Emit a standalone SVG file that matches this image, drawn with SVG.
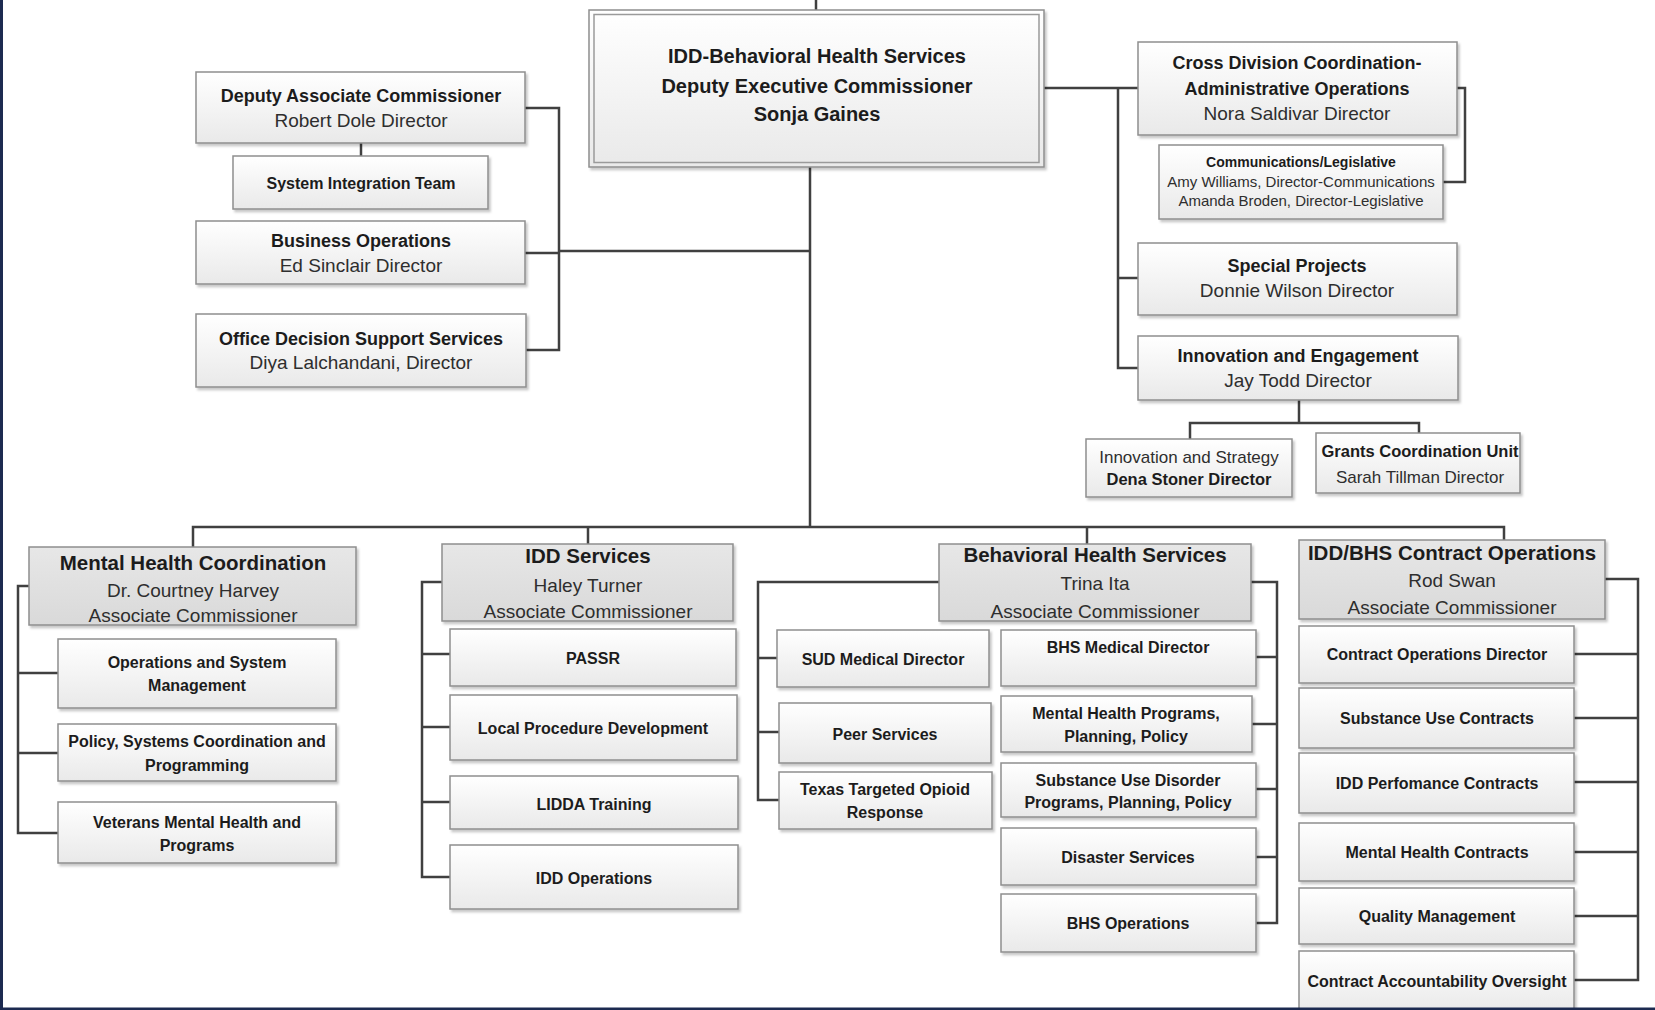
<svg xmlns="http://www.w3.org/2000/svg" width="1655" height="1010" viewBox="0 0 1655 1010">
<defs>
<linearGradient id="gBox" x1="0" y1="0" x2="0" y2="1"><stop offset="0" stop-color="#ffffff"/><stop offset="1" stop-color="#e9e9e9"/></linearGradient>
<linearGradient id="gHead" x1="0" y1="0" x2="0" y2="1"><stop offset="0" stop-color="#e7e7e7"/><stop offset="1" stop-color="#d9d9d9"/></linearGradient>
<filter id="sh" x="-5%" y="-10%" width="115%" height="130%"><feDropShadow dx="2" dy="2.5" stdDeviation="1.3" flood-color="#000" flood-opacity="0.22"/></filter>
<style>
.box{fill:url(#gBox);stroke:#8e8e8e;stroke-width:1.5;filter:url(#sh)}
.head{fill:url(#gHead);stroke:#8e8e8e;stroke-width:1.5;filter:url(#sh)}
.dbl{fill:none;stroke:#9a9a9a;stroke-width:1.5}
.con{fill:none;stroke:#404040;stroke-width:2.5}
text{font-family:"Liberation Sans",Arial,sans-serif;text-anchor:middle;fill:#1c1c1c}
.t1{font-size:20px;font-weight:bold}
.hb{font-size:18px;font-weight:bold}
.hr{font-size:19px;fill:#2e2e2e}
.ab{font-size:20.5px;font-weight:bold}
.ar{font-size:19px;fill:#2e2e2e}
.c{font-size:16px;font-weight:bold}
.cb{font-size:14px;font-weight:bold}
.cr{font-size:15px;fill:#2e2e2e}
.sb{font-size:16.5px;font-weight:bold}
.sr{font-size:17px;fill:#2e2e2e}
</style>
</defs>
<rect x="0" y="0" width="1655" height="1010" fill="#ffffff"/>

<g id="connectors">
<path class="con" d="M816,0 V10"/>
<path class="con" d="M810,167 V527"/>
<path class="con" d="M559,251 H810"/>
<path class="con" d="M525,108 H559 V350 H526 M525,253 H559"/>
<path class="con" d="M361,143 V156"/>
<path class="con" d="M1044,88 H1138 M1118,88 V368 H1138 M1118,278 H1138"/>
<path class="con" d="M1457,88 H1465 V182 H1443"/>
<path class="con" d="M1299,400 V423 M1190,439 V423 H1419 V433"/>
<path class="con" d="M193,547 V527 H1504 V540 M588,527 V544 M1087,527 V544"/>
<path class="con" d="M29,586 H18 V833 H58 M18,673 H58 M18,753 H58"/>
<path class="con" d="M442,582 H422 V877 H450 M422,654 H450 M422,727 H450 M422,802 H450"/>
<path class="con" d="M939,582 H758 V800 H779 M758,658 H777 M758,732 H779"/>
<path class="con" d="M1251,582 H1277 V923 H1256 M1256,657 H1277 M1252,724 H1277 M1256,789 H1277 M1256,857 H1277"/>
<path class="con" d="M1605,579 H1638 V980 H1574 M1574,654 H1638 M1574,718 H1638 M1574,782 H1638 M1574,852 H1638 M1574,916 H1638"/>
</g>

<g id="n-center">
<rect class="box" x="589" y="10" width="455" height="157"/>
<rect class="dbl" x="594" y="14.5" width="445" height="148"/>
<text class="t1" x="817" y="63">IDD-Behavioral Health Services</text>
<text class="t1" x="817" y="93">Deputy Executive Commissioner</text>
<text class="t1" x="817" y="121">Sonja Gaines</text>
</g>

<g id="n-deputy">
<rect class="box" x="196" y="72" width="329" height="71"/>
<text class="hb" x="361" y="102">Deputy Associate Commissioner</text>
<text class="hr" x="361" y="127">Robert Dole Director</text>
</g>
<g id="n-sit">
<rect class="box" x="233" y="156" width="255" height="53"/>
<text class="c" x="361" y="189">System Integration Team</text>
</g>
<g id="n-busops">
<rect class="box" x="196" y="221" width="329" height="63"/>
<text class="hb" x="361" y="247">Business Operations</text>
<text class="hr" x="361" y="272">Ed Sinclair Director</text>
</g>
<g id="n-ods">
<rect class="box" x="196" y="314" width="330" height="73"/>
<text class="hb" x="361" y="345">Office Decision Support Services</text>
<text class="hr" x="361" y="369">Diya Lalchandani, Director</text>
</g>

<g id="n-crossdiv">
<rect class="box" x="1138" y="42" width="319" height="93"/>
<text class="hb" x="1297" y="69">Cross Division Coordination-</text>
<text class="hb" x="1297" y="95">Administrative Operations</text>
<text class="hr" x="1297" y="120">Nora Saldivar Director</text>
</g>
<g id="n-comm">
<rect class="box" x="1159" y="145" width="284" height="74"/>
<text class="cb" x="1301" y="167">Communications/Legislative</text>
<text class="cr" x="1301" y="187">Amy Williams, Director-Communications</text>
<text class="cr" x="1301" y="206">Amanda Broden, Director-Legislative</text>
</g>
<g id="n-special">
<rect class="box" x="1138" y="243" width="319" height="72"/>
<text class="hb" x="1297" y="272">Special Projects</text>
<text class="hr" x="1297" y="297">Donnie Wilson Director</text>
</g>
<g id="n-innov">
<rect class="box" x="1138" y="336" width="320" height="64"/>
<text class="hb" x="1298" y="362">Innovation and Engagement</text>
<text class="hr" x="1298" y="387">Jay Todd Director</text>
</g>
<g id="n-innovstrat">
<rect class="box" x="1086" y="439" width="206" height="58"/>
<text class="sr" x="1189" y="463">Innovation and Strategy</text>
<text class="sb" x="1189" y="485">Dena Stoner Director</text>
</g>
<g id="n-grants">
<rect class="box" x="1316" y="433" width="204" height="60"/>
<text class="sb" x="1420" y="457">Grants Coordination Unit</text>
<text class="sr" x="1420" y="483">Sarah Tillman Director</text>
</g>

<g id="n-mhc">
<rect class="head" x="29" y="547" width="327" height="78"/>
<text class="ab" x="193" y="570">Mental Health Coordination</text>
<text class="ar" x="193" y="597">Dr. Courtney Harvey</text>
<text class="ar" x="193" y="622">Associate Commissioner</text>
</g>
<g id="n-ops">
<rect class="box" x="58" y="639" width="278" height="69"/>
<text class="c" x="197" y="668">Operations and System</text>
<text class="c" x="197" y="691">Management</text>
</g>
<g id="n-policy">
<rect class="box" x="58" y="724" width="278" height="57"/>
<text class="c" x="197" y="747">Policy, Systems Coordination and</text>
<text class="c" x="197" y="771">Programming</text>
</g>
<g id="n-veterans">
<rect class="box" x="58" y="802" width="278" height="61"/>
<text class="c" x="197" y="828">Veterans Mental Health and</text>
<text class="c" x="197" y="851">Programs</text>
</g>

<g id="n-idd">
<rect class="head" x="442" y="544" width="291" height="77"/>
<text class="ab" x="588" y="563">IDD Services</text>
<text class="ar" x="588" y="592">Haley Turner</text>
<text class="ar" x="588" y="618">Associate Commissioner</text>
</g>
<g id="n-passr">
<rect class="box" x="450" y="629" width="286" height="57"/>
<text class="c" x="593" y="664">PASSR</text>
</g>
<g id="n-localproc">
<rect class="box" x="450" y="695" width="287" height="65"/>
<text class="c" x="593" y="734">Local Procedure Development</text>
</g>
<g id="n-lidda">
<rect class="box" x="450" y="776" width="288" height="53"/>
<text class="c" x="594" y="810">LIDDA Training</text>
</g>
<g id="n-iddops">
<rect class="box" x="450" y="845" width="288" height="64"/>
<text class="c" x="594" y="884">IDD Operations</text>
</g>

<g id="n-bhs">
<rect class="head" x="939" y="544" width="312" height="77"/>
<text class="ab" x="1095" y="562">Behavioral Health Services</text>
<text class="ar" x="1095" y="590">Trina Ita</text>
<text class="ar" x="1095" y="618">Associate Commissioner</text>
</g>
<g id="n-sudmed">
<rect class="box" x="777" y="630" width="212" height="57"/>
<text class="c" x="883" y="665">SUD Medical Director</text>
</g>
<g id="n-peer">
<rect class="box" x="779" y="703" width="212" height="60"/>
<text class="c" x="885" y="740">Peer Services</text>
</g>
<g id="n-texas">
<rect class="box" x="779" y="772" width="213" height="57"/>
<text class="c" x="885" y="795">Texas Targeted Opioid</text>
<text class="c" x="885" y="818">Response</text>
</g>
<g id="n-bhsmed">
<rect class="box" x="1001" y="630" width="255" height="56"/>
<text class="c" x="1128" y="653">BHS Medical Director</text>
</g>
<g id="n-mhppp">
<rect class="box" x="1001" y="696" width="251" height="56"/>
<text class="c" x="1126" y="719">Mental Health Programs,</text>
<text class="c" x="1126" y="742">Planning, Policy</text>
</g>
<g id="n-sudppp">
<rect class="box" x="1001" y="763" width="255" height="54"/>
<text class="c" x="1128" y="786">Substance Use Disorder</text>
<text class="c" x="1128" y="808">Programs, Planning, Policy</text>
</g>
<g id="n-disaster">
<rect class="box" x="1001" y="828" width="255" height="57"/>
<text class="c" x="1128" y="863">Disaster Services</text>
</g>
<g id="n-bhsops">
<rect class="box" x="1001" y="894" width="255" height="58"/>
<text class="c" x="1128" y="929">BHS Operations</text>
</g>

<g id="n-contract">
<rect class="head" x="1299" y="540" width="306" height="79"/>
<text class="ab" x="1452" y="560">IDD/BHS Contract Operations</text>
<text class="ar" x="1452" y="587">Rod Swan</text>
<text class="ar" x="1452" y="614">Associate Commissioner</text>
</g>
<g id="n-cod">
<rect class="box" x="1299" y="626" width="275" height="57"/>
<text class="c" x="1437" y="660">Contract Operations Director</text>
</g>
<g id="n-suc">
<rect class="box" x="1299" y="688" width="275" height="60"/>
<text class="c" x="1437" y="724">Substance Use Contracts</text>
</g>
<g id="n-iddperf">
<rect class="box" x="1299" y="753" width="275" height="60"/>
<text class="c" x="1437" y="789">IDD Perfomance Contracts</text>
</g>
<g id="n-mhcon">
<rect class="box" x="1299" y="823" width="275" height="58"/>
<text class="c" x="1437" y="858">Mental Health Contracts</text>
</g>
<g id="n-qm">
<rect class="box" x="1299" y="888" width="275" height="56"/>
<text class="c" x="1437" y="922">Quality Management</text>
</g>
<g id="n-cao">
<rect class="box" x="1299" y="951" width="275" height="62"/>
<text class="c" x="1437" y="987">Contract Accountability Oversight</text>
</g>

<rect x="0" y="0" width="3" height="1010" fill="#1c2a50"/>
<rect x="0" y="1007.5" width="1655" height="2.5" fill="#1c2a50"/>
</svg>
